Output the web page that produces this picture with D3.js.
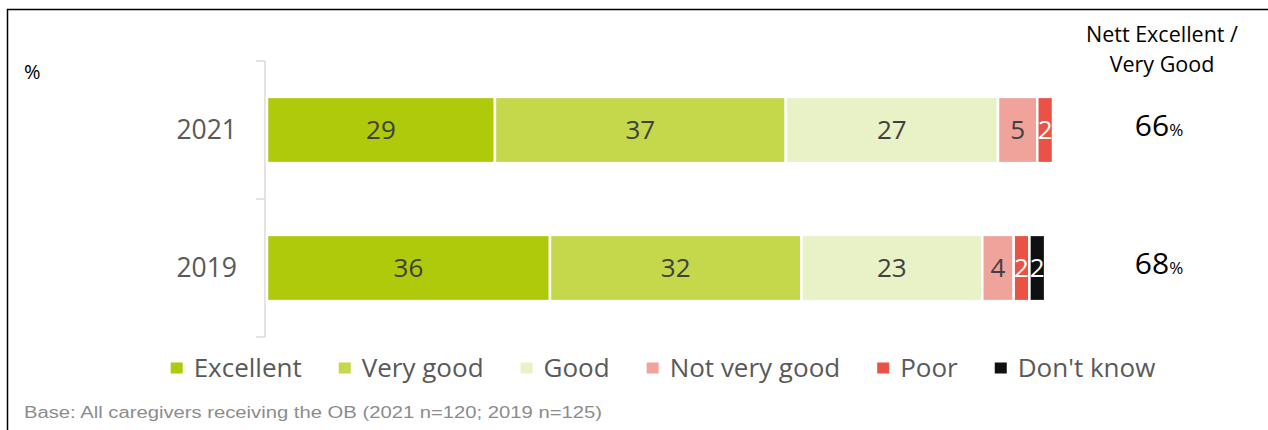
<!DOCTYPE html>
<html>
<head>
<meta charset="utf-8">
<script src="https://cdn.jsdelivr.net/npm/d3@7"></script>
<style>
  html, body { margin: 0; padding: 0; background: #fff; }
  svg { display: block; }
</style>
</head>
<body>
<svg id="chart" width="1268" height="430"></svg>
<script>
// Survey ratings by year (percent of respondents)
const years = ["2021", "2019"];
const categories = ["Excellent", "Very good", "Good", "Not very good", "Poor", "Don't know"];
const values2021 = [29, 37, 27, 5, 2, 0];
const values2019 = [36, 32, 23, 4, 2, 2];
const nettValues = [66, 68];
const colors = ["#afca0b", "#c5d74b", "#e9f2c7", "#efa39b", "#e95244", "#0f1012"];
const labelColors = ["#404040", "#404040", "#404040", "#404040", "#ffffff", "#ffffff"];

const seriesByYear = { "2021": values2021, "2019": values2019 };

const font = "'Open Sans', 'Noto Sans', sans-serif";
const svg = d3.select("#chart");

// Frame (top and left edges visible)
svg.append("line").attr("x1", 7).attr("x2", 1268).attr("y1", 9.5).attr("y2", 9.5)
  .attr("stroke", "#000").attr("stroke-width", 1.5);
svg.append("line").attr("x1", 7.5).attr("x2", 7.5).attr("y1", 9).attr("y2", 430)
  .attr("stroke", "#000").attr("stroke-width", 1.5);

// Scales
const x = d3.scaleLinear().domain([0, 100]).range([267, 1053]);
const y = d3.scaleBand().domain(years).range([61, 337]).paddingInner(0.52).paddingOuter(0.26);

// Category axis: line with ticks between categories
const axisX = 265;
const boundaries = [y.range()[0]].concat(years.map(yr => y(yr) - y.step() * y.paddingInner() / 2 + y.step()));
const axisG = svg.append("g");
axisG.append("line").attr("x1", axisX).attr("x2", axisX)
  .attr("y1", y.range()[0]).attr("y2", y.range()[1])
  .attr("stroke", "#d9d9d9").attr("stroke-width", 1.5);
axisG.selectAll("line.tick").data(boundaries).join("line").attr("class", "tick")
  .attr("x1", 256).attr("x2", axisX)
  .attr("y1", d => d).attr("y2", d => d)
  .attr("stroke", "#d9d9d9").attr("stroke-width", 1.5);

// Year labels
svg.selectAll("text.year").data(years).join("text").attr("class", "year")
  .attr("x", 237).attr("y", d => y(d) + y.bandwidth() / 2)
  .attr("dy", "0.35em").attr("text-anchor", "end")
  .attr("font-family", font).attr("font-size", 26.5).attr("fill", "#595959")
  .text(d => d);

// Stacked segments
const segments = [];
years.forEach(yr => {
  let acc = 0;
  seriesByYear[yr].forEach((v, i) => {
    if (v > 0) segments.push({ year: yr, i, v, x0: acc, x1: acc + v });
    acc += v;
  });
});

svg.append("g").selectAll("rect").data(segments).join("rect")
  .attr("x", d => x(d.x0))
  .attr("y", d => y(d.year))
  .attr("width", d => x(d.x1) - x(d.x0))
  .attr("height", y.bandwidth())
  .attr("fill", d => colors[d.i])
  .attr("stroke", "#fff").attr("stroke-width", 2.5);

svg.append("g").selectAll("text").data(segments).join("text")
  .attr("x", d => (x(d.x0) + x(d.x1)) / 2)
  .attr("y", d => y(d.year) + y.bandwidth() / 2)
  .attr("dy", "0.36em").attr("text-anchor", "middle")
  .attr("font-family", font).attr("font-size", 26)
  .attr("fill", d => labelColors[d.i])
  .text(d => d.v);

// Nett column
const nettX = 1162;
const header = svg.append("text").attr("text-anchor", "middle")
  .attr("font-family", font).attr("font-size", 21.5).attr("fill", "#000");
header.append("tspan").attr("x", nettX).attr("y", 42).text("Nett Excellent /");
header.append("tspan").attr("x", nettX).attr("y", 72).text("Very Good");

const nettT = svg.selectAll("text.nett").data(years).join("text").attr("class", "nett")
  .attr("x", 1159).attr("y", d => y(d) + y.bandwidth() / 2)
  .attr("dy", "0.36em").attr("text-anchor", "middle")
  .attr("font-family", font).attr("fill", "#000");
nettT.append("tspan").attr("font-size", 30).text((d, i) => nettValues[i]);
nettT.append("tspan").attr("font-size", 17).text("%");

// Unit label
svg.append("text").attr("x", 24).attr("y", 79)
  .attr("font-family", font).attr("font-size", 20).attr("fill", "#000").text("%");

// Legend
const legendY = 368;
const legend = svg.append("g");
const items = legend.selectAll("g").data(categories).join("g");
items.append("rect").attr("width", 12).attr("height", 11).attr("y", legendY - 5.5)
  .attr("fill", (d, i) => colors[i]);
items.append("text").attr("x", 23).attr("y", legendY).attr("dy", "0.35em")
  .attr("font-family", font).attr("font-size", 26).attr("fill", "#595959")
  .text(d => d);
let cursor = 0;
const gap = 37;
items.each(function () {
  const g = d3.select(this);
  const w = 23 + g.select("text").node().getComputedTextLength();
  g.attr("data-x", cursor);
  cursor += w + gap;
});
const totalW = cursor - gap;
const startX = 663 - totalW / 2;
items.attr("transform", function () {
  return `translate(${startX + +this.getAttribute("data-x")},0)`;
});

// Footnote
svg.append("text").attr("x", 24).attr("y", 418)
  .attr("font-family", "'Liberation Sans', Arial, sans-serif").attr("font-size", 16)
  .attr("fill", "#8c8c8c")
  .attr("textLength", 578).attr("lengthAdjust", "spacingAndGlyphs")
  .text("Base: All caregivers receiving the OB (2021 n=120; 2019 n=125)");
</script>
</body>
</html>
